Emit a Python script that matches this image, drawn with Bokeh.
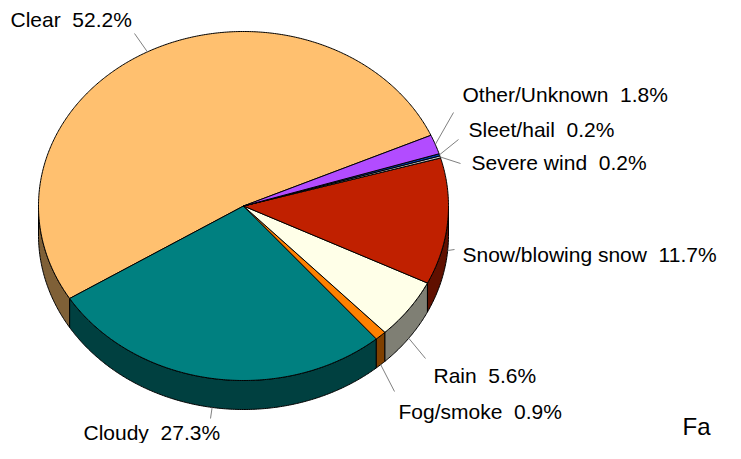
import numpy as np
from bokeh.plotting import figure
from bokeh.models import Range1d
from bokeh.core.properties import value
from bokeh.embed import file_html
from bokeh.resources import INLINE

# ---------------- data ----------------
categories = ["Clear", "Cloudy", "Fog/smoke", "Rain", "Snow/blowing snow",
              "Severe wind", "Sleet/hail", "Other/Unknown"]
percentages = [52.2, 27.3, 0.9, 5.6, 11.7, 0.2, 0.2, 1.8]

# ---------------- styles / layout ----------------
top_colors = ["#FFC06F", "#008080", "#FF8000", "#FFFFE8", "#C02000",
              "#C0C0C0", "#0040C0", "#B24CFF"]
# label text left/middle anchor and leader-line end, per category
label_pos = [(10, 19), (83, 432), (398, 411), (433, 375), (462, 254),
             (471, 162), (468, 129), (462, 94)]
leader_end = [(134, 33), (210, 418), (394, 391), (425, 358), (454, 249),
              (460, 163), (458, 139), (453, 112)]
title_pos = (682, 426)

W, H = 725, 443
OX, OY = 0, 0          # picture origin = figure origin
CX, CY = 243.0, 205.5  # pie centre (pixels)
RX, RY = 205.0, 174.5  # ellipse radii
DEPTH = 29.0
START_DEG = 23.9       # angle where the first slice starts (counter-clockwise)
FONT = "Liberation Sans"


def darker(hexcol, f=0.5):
    h = hexcol.lstrip("#")
    r, g, b = (int(h[i:i + 2], 16) for i in (0, 2, 4))
    return "#%02x%02x%02x" % (int(r * f), int(g * f), int(b * f))


def arc(a1, a2, dz=0.0):
    n = max(3, int(abs(a2 - a1) * 2) + 2)
    t = np.radians(np.linspace(a1, a2, n))
    return list(CX + RX * np.cos(t)), list(CY - RY * np.sin(t) + dz)


p = figure(width=W, height=H,
           x_range=Range1d(OX, OX + W), y_range=Range1d(OY + H, OY),
           output_backend="svg", toolbar_location=None,
           x_axis_location=None, y_axis_location=None,
           min_border=0, min_border_left=0, min_border_right=0,
           min_border_top=0, min_border_bottom=0)
p.grid.visible = False
p.outline_line_color = None
p.background_fill_color = "white"
p.border_fill_color = "white"

total = sum(percentages)
bounds = []
a = START_DEG
for pct in percentages:
    b = a + pct / total * 360.0
    bounds.append((a, b))
    a = b

# side faces (front half of the ellipse)
side_xs, side_ys, side_cols = [], [], []
for (a1, a2), col in zip(bounds, top_colors):
    for k in (0.0, 360.0):
        lo, hi = max(a1, 180.0 + k), min(a2, 360.0 + k)
        if hi > lo:
            tx, ty = arc(lo, hi)
            bx, by = arc(hi, lo, DEPTH)
            side_xs.append(tx + bx)
            side_ys.append(ty + by)
            side_cols.append(darker(col))
p.patches(side_xs, side_ys, fill_color=side_cols, line_color="black",
          line_width=1, line_join="round")

# top faces
top_xs, top_ys = [], []
for (a1, a2) in bounds:
    ax_, ay_ = arc(a1, a2)
    top_xs.append([CX] + ax_)
    top_ys.append([CY] + ay_)
p.patches(top_xs, top_ys, fill_color=top_colors, line_color="black",
          line_width=1, line_join="round")

# leader lines from slice edge (mid angle) to label
x0s, y0s, x1s, y1s = [], [], [], []
for (a1, a2), (ex, ey) in zip(bounds, leader_end):
    m = (a1 + a2) / 2.0
    t = np.radians(m)
    sx = CX + RX * np.cos(t)
    sy = CY - RY * np.sin(t)
    if np.sin(t) < 0:
        sy += DEPTH
    x0s.append(sx); y0s.append(sy); x1s.append(ex); y1s.append(ey)
p.segment(x0s, y0s, x1s, y1s, line_color="#808080", line_width=1)

labels = [f"{c} \u00a0{v}%" for c, v in zip(categories, percentages)]
p.text(x=[lp[0] for lp in label_pos], y=[lp[1] for lp in label_pos], text=labels,
       text_font=value(FONT), text_font_size="21px", text_color="black",
       text_align="left", text_baseline="middle")

# title fragment shown at the bottom-right corner
p.text(x=[title_pos[0]], y=[title_pos[1]], text=["Fa"], text_font=value(FONT),
       text_font_size="24px", text_color="black",
       text_align="left", text_baseline="alphabetic")

open("out.html", "w").write(file_html(p, INLINE))
